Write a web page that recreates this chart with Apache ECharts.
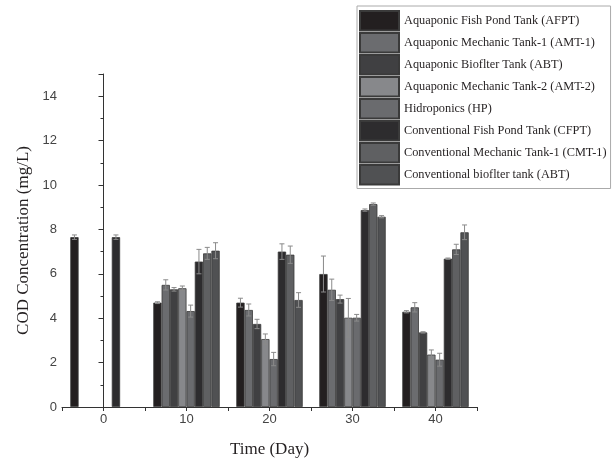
<!DOCTYPE html>
<html>
<head>
<meta charset="utf-8">
<script src="https://cdn.jsdelivr.net/npm/echarts@6/dist/echarts.min.js"></script>
<style>
  html, body { margin: 0; padding: 0; background: #fff; }
  #chart { width: 612px; height: 460px; }
</style>
</head>
<body>
<div id="chart"></div>
<script>
// sampling days (x axis)
const days = [0, 10, 20, 30, 40]

const seriesNames = [
  'Aquaponic Fish Pond Tank (AFPT)',
  'Aquaponic Mechanic Tank-1 (AMT-1)',
  'Aquaponic Bioflter Tank (ABT)',
  'Aquaponic Mechanic Tank-2 (AMT-2)',
  'Hidroponics (HP)',
  'Conventional Fish Pond Tank (CFPT)',
  'Conventional Mechanic Tank-1 (CMT-1)',
  'Conventional bioflter tank (ABT)',
]

// COD mean values, one entry per day (null = not measured)
const afpt = [7.65, 4.70, 4.70, 5.99, 4.29]
const amt1 = [null, 5.50, 4.37, 5.28, 4.49]
const abt = [null, 5.30, 3.74, 4.86, 3.36]
const amt2 = [null, 5.35, 3.06, 4.02, 2.36]
const hp = [null, 4.32, 2.16, 4.02, 2.13]
const cfpt = [7.65, 6.55, 7.00, 8.87, 6.68]
const cmt1 = [null, 6.92, 6.86, 9.14, 7.10]
const abtConv = [null, 7.04, 4.82, 8.57, 7.87]

// standard deviations
const afptErr = [0.10, 0.04, 0.20, 0.81, 0.05]
const amt1Err = [null, 0.23, 0.27, 0.48, 0.21]
const abtErr = [null, 0.08, 0.21, 0.18, 0.03]
const amt2Err = [null, 0.10, 0.23, 0.87, 0.21]
const hpErr = [null, 0.27, 0.30, 0.15, 0.29]
const cfptErr = [0.10, 0.55, 0.35, 0.05, 0.03]
const cmt1Err = [null, 0.27, 0.39, 0.05, 0.23]
const abtConvErr = [null, 0.36, 0.33, 0.05, 0.33]

const yTicks = [0, 2, 4, 6, 8, 10, 12, 14]

const means = [afpt, amt1, abt, amt2, hp, cfpt, cmt1, abtConv]
const errors = [afptErr, amt1Err, abtErr, amt2Err, hpErr, cfptErr, cmt1Err, abtConvErr]
const colorList = ['#231f20', '#6b6c6f', '#404042', '#87888b', '#6a6b6e', '#2d2c2e', '#5f6062', '#505153']

const chart = echarts.init(document.getElementById('chart'))

// each bar is 1 day wide, 8 bars centred on the sampling day
const barPos = (d, i) => d - 3.5 + i

const barSeries = means.map((vals, i) => ({
  name: seriesNames[i],
  type: 'bar',
  barWidth: 8.3,
  barGap: '-100%',
  data: days.map((d, k) => [barPos(d, i), vals[k]]).filter(p => p[1] != null),
  itemStyle: {
    color: colorList[i],
    borderColor: '#3a3a3a',
    borderWidth: 0.8,
  },
  z: 2,
}))

const errData = []
means.forEach((vals, i) => {
  days.forEach((d, k) => {
    if (vals[k] != null && errors[i][k] != null) {
      errData.push([barPos(d, i), vals[k] - errors[i][k], vals[k] + errors[i][k]])
    }
  })
})

const errSeries = {
  type: 'custom',
  silent: true,
  z: 5,
  data: errData,
  encode: { x: 0, y: [1, 2] },
  renderItem(params, api) {
    const x = api.value(0)
    const lo = api.coord([x, api.value(1)])
    const hi = api.coord([x, api.value(2)])
    const half = 2.5
    const style = { stroke: '#8a8a8a', lineWidth: 1 }
    return {
      type: 'group',
      children: [
        { type: 'line', shape: { x1: hi[0], y1: hi[1], x2: lo[0], y2: lo[1] }, style },
        { type: 'line', shape: { x1: hi[0] - half, y1: hi[1], x2: hi[0] + half, y2: hi[1] }, style },
        { type: 'line', shape: { x1: lo[0] - half, y1: lo[1], x2: lo[0] + half, y2: lo[1] }, style },
      ],
    }
  },
}

const options = {
  backgroundColor: '#fff',
  animation: false,
  grid: { left: 62, right: 135, top: 74, bottom: 53, outerBoundsMode: 'none' },
  legend: {
    orient: 'vertical',
    left: 357,
    top: 6,
    itemWidth: 39,
    itemHeight: 19.5,
    itemGap: 0.5,
    padding: [4, 4, 3, 2],
    borderColor: '#aaa',
    borderWidth: 1,
    backgroundColor: '#fff',
    icon: 'rect',
    data: seriesNames,
    textStyle: {
      fontFamily: 'Liberation Serif',
      fontSize: 12.3,
      color: '#231f20',
    },
  },
  xAxis: {
    type: 'value',
    min: -5,
    max: 45,
    interval: 5,
    name: 'Time (Day)',
    nameLocation: 'middle',
    nameGap: 34,
    nameTextStyle: { fontFamily: 'Liberation Serif', fontSize: 17, color: '#231f20' },
    splitLine: { show: false },
    axisLine: { lineStyle: { color: '#333', width: 1 } },
    axisTick: { length: 4, lineStyle: { color: '#333' } },
    axisLabel: {
      fontFamily: 'Liberation Sans',
      fontSize: 13,
      color: '#444',
      margin: 6,
      formatter: v => (v % 10 === 0 ? String(v) : ''),
    },
  },
  yAxis: {
    type: 'value',
    min: 0,
    max: 15,
    interval: 2,
    name: 'COD Concentration (mg/L)',
    nameLocation: 'middle',
    nameGap: 30,
    nameTextStyle: { fontFamily: 'Liberation Serif', fontSize: 17, color: '#231f20' },
    splitLine: { show: false },
    axisLine: { show: true, lineStyle: { color: '#333', width: 1 } },
    axisTick: { show: true, length: 5, lineStyle: { color: '#333' } },
    minorTick: { show: true, splitNumber: 2, length: 3, lineStyle: { color: '#333' } },
    axisLabel: {
      fontFamily: 'Liberation Sans',
      fontSize: 13,
      color: '#444',
      margin: 5,
      showMaxLabel: false,
      formatter: v => (yTicks.includes(v) ? String(v) : ''),
    },
  },
  series: [...barSeries, errSeries],
}

chart.setOption(options)
</script>
</body>
</html>
